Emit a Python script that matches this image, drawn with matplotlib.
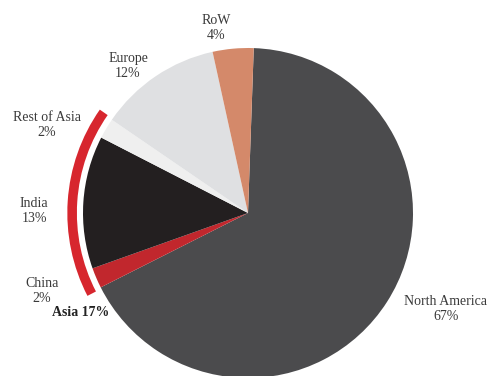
import matplotlib.pyplot as plt
from matplotlib.patches import Wedge

# Revenue share by region
regions = ["North America", "China", "India", "Rest of Asia", "Europe", "RoW"]
shares = [67, 2, 13, 2, 12, 4]
colors = ["#4b4b4d", "#c1272d", "#231f20", "#efefef", "#dfe0e2", "#d4896a"]

asia_label = "Asia"
asia_regions = ["China", "India", "Rest of Asia"]

# label anchor points in pixels (x from left, y from top)
label_px = {
    "North America": (446, 309),
    "China": (42, 291),
    "India": (34, 211),
    "Rest of Asia": (47, 125),
    "Europe": (128, 66),
    "RoW": (216, 28),
}
asia_label_px = (81, 313)

W, H = 487, 376
cx, cy, R = 248, 213, 165
start_angle = 88


def to_data(x, y):
    return (x - cx) / R, (cy - y) / R


fig = plt.figure(figsize=(W / 100, H / 100), dpi=100)
ax = fig.add_axes([0, 0, 1, 1])

ax.pie(shares, colors=colors, startangle=start_angle, counterclock=False,
       radius=1, center=(0, 0), frame=True,
       wedgeprops=dict(linewidth=0))
ax.set_xlim(to_data(0, 0)[0], to_data(W, 0)[0])
ax.set_ylim(to_data(0, H)[1], to_data(0, 0)[1])
ax.axis("off")

# red bracket around the Asian slices
first = regions.index("China")
asia_sum = sum(shares[regions.index(r)] for r in asia_regions)
theta_hi = start_angle - sum(shares[:first]) * 3.6
theta_lo = theta_hi - asia_sum * 3.6
ax.add_patch(Wedge((0, 0), 1.095, theta_lo - 0.5, theta_hi + 0.5, width=0.058,
                   facecolor="#d7262e", edgecolor="none"))

font = dict(family=["Liberation Serif", "DejaVu Serif"], fontsize=10,
            color="#3a3a3a", ha="center", va="center", linespacing=1.25)
for name, val in zip(regions, shares):
    x, y = to_data(*label_px[name])
    ax.text(x, y, f"{name}\n{val}%", **font)

x, y = to_data(*asia_label_px)
ax.text(x, y, f"{asia_label} {asia_sum}%", family=["Liberation Serif"],
        fontsize=10, fontweight="bold", color="#222222", ha="center", va="center")

fig.savefig("out.png", dpi=100)
